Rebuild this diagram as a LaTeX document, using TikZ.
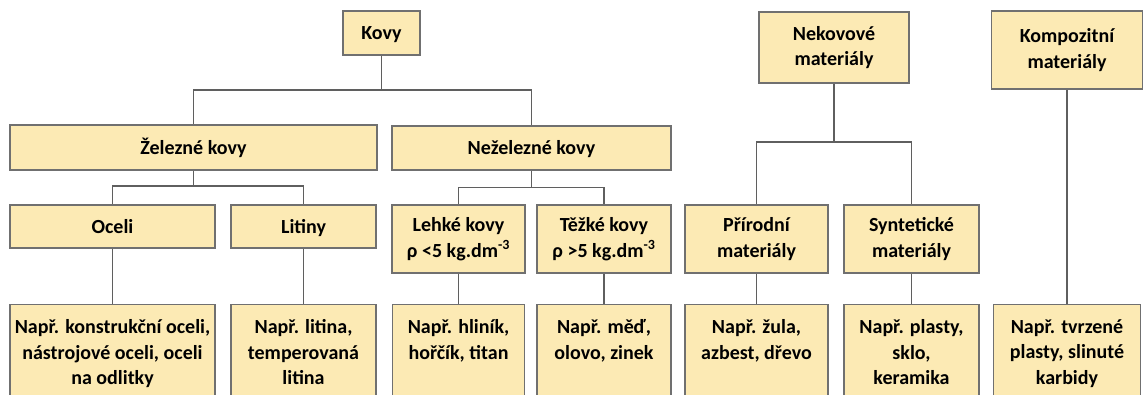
\documentclass[tikz,border=0pt]{standalone}
\usepackage{fontspec}
\setmainfont{Carlito}
\usetikzlibrary{positioning}
\definecolor{boxfill}{RGB}{252,234,180}
\definecolor{boxline}{RGB}{112,112,112}
\definecolor{linkgray}{RGB}{95,95,95}
\newcommand{\extext}[2]{\parbox[t][95pt][t]{#1}{\centering #2}}

\begin{document}
\begin{tikzpicture}[x=1pt,y=-1pt,
    every node/.style={font=\fontsize{20}{25.5}\selectfont\bfseries},
    box/.style={draw=boxline, fill=boxfill, line width=1.2pt, align=center, inner sep=2pt},
    onebox/.style={box, text height=15pt, text depth=2pt},
    exbox/.style={box, anchor=north, inner xsep=2pt, inner ysep=15pt},
    link/.style={draw=linkgray, line width=1.1pt}]
    \useasboundingbox (0,0) rectangle (1144,394);
    \clip (0,0) rectangle (1144,394);
    % kovy
    \node[onebox, minimum width=77, minimum height=44] (kovy) at (381.5,33) {Kovy};
    \node[onebox, minimum width=367, minimum height=45] (zel) at (193.5,147.5) {Železné kovy};
    \node[onebox, minimum width=279, minimum height=44] (nezel) at (531.5,148) {Neželezné kovy};
    \node[onebox, minimum width=205, minimum height=43] (ocel) at (112.5,226.5) {Oceli};
    \node[onebox, minimum width=145, minimum height=43] (lit) at (303.5,226.5) {Litiny};
    \node[box, minimum width=133, minimum height=68] (lehke) at (458.5,239) {Lehké kovy\\ρ <5 kg.dm\textsuperscript{-3}};
    \node[box, minimum width=134, minimum height=68] (tezke) at (604,239) {Těžké kovy\\ρ >5 kg.dm\textsuperscript{-3}};
    \node[exbox] (ocelex) at (112.5,304) {\extext{201pt}{Např. konstrukční oceli,\\nástrojové oceli, oceli\\na odlitky}};
    \node[exbox] (litex) at (303.5,304) {\extext{141pt}{Např. litina,\\temperovaná\\litina}};
    \node[exbox] (lehex) at (458.5,304) {\extext{128pt}{Např. hliník,\\hořčík, titan}};
    \node[exbox] (tezex) at (604,304) {\extext{130pt}{Např. měď,\\olovo, zinek}};
    % nekovove a kompozitni
    \node[box, minimum width=150, minimum height=71] (nekov) at (834,47.5) {Nekovové\\materiály};
    \node[box, minimum width=143, minimum height=68] (prir) at (756.5,239) {Přírodní\\materiály};
    \node[box, minimum width=135, minimum height=68] (synt) at (911.5,239) {Syntetické\\materiály};
    \node[exbox] (prirex) at (756.5,304) {\extext{139pt}{Např. žula,\\azbest, dřevo}};
    \node[exbox] (syntex) at (911.5,304) {\extext{131pt}{Např. plasty,\\sklo,\\keramika}};
    \node[box, minimum width=151, minimum height=78] (komp) at (1067,50) {Kompozitní\\materiály};
    \node[exbox] (kompex) at (1067,304) {\extext{143pt}{Např. tvrzené\\plasty, slinuté\\karbidy}};
    % spojnice
    \coordinate (kbus) at (381.5,90);
    \coordinate (zbus) at (193.5,186);
    \coordinate (nzbus) at (531.5,187.5);
    \coordinate (nkbus) at (834,142);
    \draw[link] (kovy.south) -- (kbus);
    \draw[link] (zel.north) |- (kbus) -| (nezel.north);
    \draw[link] (zel.south) -- (zbus);
    \draw[link] (ocel.north) |- (zbus) -| (lit.north);
    \draw[link] (nezel.south) -- (nzbus);
    \draw[link] (lehke.north) |- (nzbus) -| (tezke.north);
    \draw[link] (ocel.south) -- (ocelex.north);
    \draw[link] (lit.south) -- (litex.north);
    \draw[link] (lehke.south) -- (lehex.north);
    \draw[link] (tezke.south) -- (tezex.north);
    \draw[link] (nekov.south) -- (nkbus);
    \draw[link] (prir.north) |- (nkbus) -| (synt.north);
    \draw[link] (prir.south) -- (prirex.north);
    \draw[link] (synt.south) -- (syntex.north);
    \draw[link] (komp.south) -- (kompex.north);
\end{tikzpicture}
\end{document}
